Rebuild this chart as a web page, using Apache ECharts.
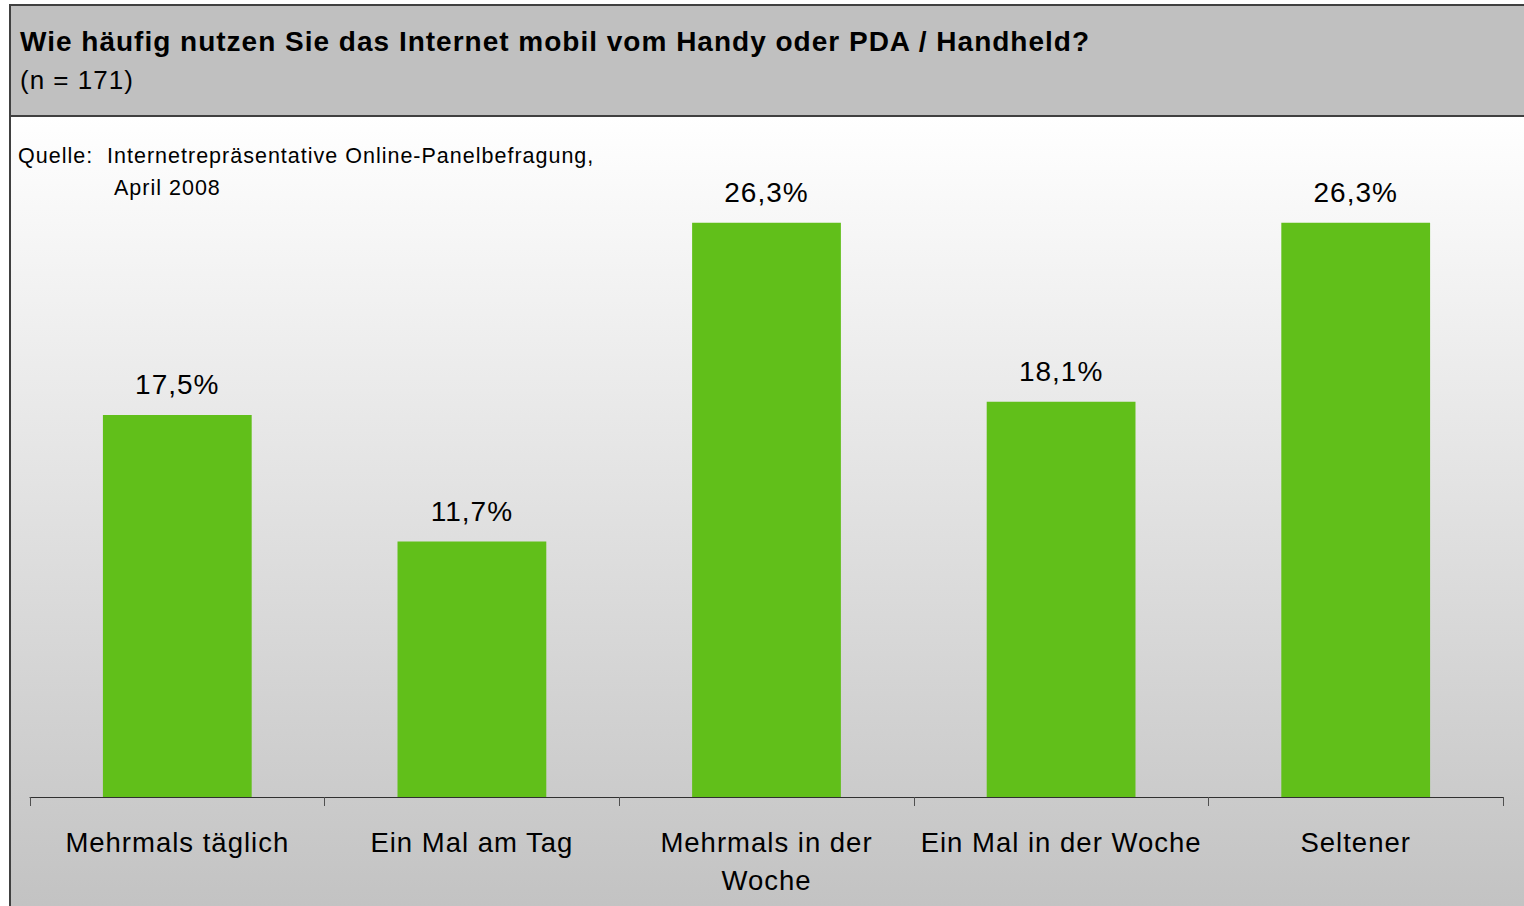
<!DOCTYPE html>
<html>
<head>
<meta charset="utf-8">
<script src="https://cdn.jsdelivr.net/npm/echarts@6/dist/echarts.min.js"></script>
<style>
  html, body { margin: 0; padding: 0; background: #fff; }
  #main { width: 1524px; height: 906px; letter-spacing: 1px; }
</style>
</head>
<body>
<div id="main"></div>
<script>
  var categories = ['Mehrmals täglich', 'Ein Mal am Tag', 'Mehrmals in der\nWoche', 'Ein Mal in der Woche', 'Seltener'];
  var values = [17.5, 11.7, 26.3, 18.1, 26.3];

  var font = '"Liberation Sans", Arial, sans-serif';
  // svg renderer so the css letter-spacing reaches the text (old Excel look)
  var chart = echarts.init(document.getElementById('main'), null, { renderer: 'svg' });
  chart.setOption({
    animation: false,
    textStyle: { fontFamily: font },
    graphic: [
      {
        type: 'rect', z: -10,
        shape: { x: 10, y: 116, width: 1530, height: 800 },
        style: {
          fill: new echarts.graphic.LinearGradient(0, 0, 0, 1, [
            { offset: 0, color: '#ffffff' },
            { offset: 1, color: '#c2c2c2' }
          ]),
          stroke: '#404040', lineWidth: 2
        }
      },
      {
        type: 'rect', z: -9,
        shape: { x: 10, y: 5, width: 1530, height: 111 },
        style: { fill: '#c0c0c0', stroke: '#404040', lineWidth: 2 }
      },
      {
        type: 'text', left: 20, top: 27,
        style: { text: 'Wie häufig nutzen Sie das Internet mobil vom Handy oder PDA / Handheld?', fill: '#000', font: 'bold 28px ' + font }
      },
      {
        type: 'text', left: 20, top: 67,
        style: { text: '(n = 171)', fill: '#000', font: '26px ' + font }
      },
      {
        type: 'text', left: 18, top: 145,
        style: { text: 'Quelle:  Internetrepräsentative Online-Panelbefragung,', fill: '#000', font: '21.5px ' + font }
      },
      {
        type: 'text', left: 114, top: 177,
        style: { text: 'April 2008', fill: '#000', font: '21.5px ' + font }
      }
    ],
    grid: { left: 30, right: 21, top: 142, bottom: 109, containLabel: false },
    xAxis: {
      type: 'category',
      data: categories,
      axisLine: { lineStyle: { color: '#303030', width: 1 } },
      axisTick: { show: true, alignWithLabel: false, length: 9, lineStyle: { color: '#505050' } },
      axisLabel: { color: '#000', fontSize: 27.5, margin: 26, lineHeight: 38, interval: 0, fontFamily: font }
    },
    yAxis: {
      type: 'value', min: 0, max: 30,
      show: false,
      splitLine: { show: false }
    },
    series: [{
      type: 'bar',
      data: values,
      barWidth: '50.5%',
      itemStyle: { color: '#61bf1a' },
      label: {
        show: true, position: 'top', distance: 16,
        color: '#000', fontSize: 28, fontFamily: font,
        formatter: function (p) { return String(p.value).replace('.', ',') + '%'; }
      }
    }]
  });
</script>
</body>
</html>
